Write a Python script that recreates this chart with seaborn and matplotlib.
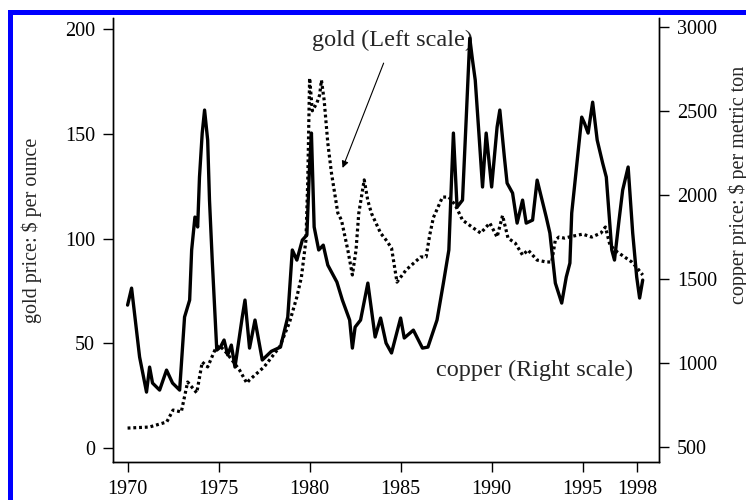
import numpy as np
import pandas as pd
import matplotlib
matplotlib.use("Agg")
import matplotlib.pyplot as plt
from matplotlib.patches import Rectangle
import seaborn as sns

# copper price, $ per metric ton (right scale)
copper_year = [1970.0, 1970.22, 1970.66, 1971.04, 1971.21, 1971.37, 1971.76, 1972.14, 1972.47, 1972.86,
               1973.13, 1973.41, 1973.52, 1973.7, 1973.85, 1973.95, 1974.1, 1974.23, 1974.4, 1974.5,
               1974.65, 1974.9, 1975.1, 1975.3, 1975.5, 1975.7, 1975.9, 1976.3, 1976.45, 1976.7,
               1977.0, 1977.4, 1977.9, 1978.4, 1978.8, 1979.05, 1979.3, 1979.6, 1979.85, 1980.0,
               1980.1, 1980.25, 1980.5, 1980.75, 1981.0, 1981.5, 1981.8, 1982.2, 1982.35, 1982.5,
               1982.8, 1983.2, 1983.6, 1983.9, 1984.2, 1984.5, 1985.0, 1985.2, 1985.7, 1986.2,
               1986.5, 1987.0, 1987.35, 1987.65, 1987.8, 1987.9, 1988.1, 1988.4, 1988.6, 1988.8,
               1988.95, 1989.1, 1989.3, 1989.5, 1989.7, 1990.0, 1990.3, 1990.45, 1990.7, 1990.85,
               1991.15, 1991.4, 1991.7, 1991.9, 1992.25, 1992.5, 1993.0, 1993.2, 1993.5, 1993.85,
               1994.1, 1994.3, 1994.4, 1994.55, 1994.95, 1995.1, 1995.3, 1995.55, 1995.8, 1996.1,
               1996.3, 1996.6, 1996.75, 1997.0, 1997.2, 1997.5, 1997.75, 1997.97, 1998.13, 1998.3]
copper_price = [1345, 1446, 1036, 827, 976, 881, 839, 958, 881, 839,
                1274, 1375, 1673, 1869, 1810, 2107, 2369, 2506, 2327, 1970,
                1613, 1077, 1095, 1137, 1048, 1107, 976, 1274, 1375, 1089,
                1256, 1018, 1070, 1095, 1274, 1673, 1613, 1732, 1762, 2178,
                2369, 1810, 1673, 1702, 1583, 1482, 1375, 1256, 1089, 1214,
                1256, 1476, 1155, 1268, 1119, 1060, 1268, 1149, 1196, 1089,
                1095, 1256, 1476, 1673, 2100, 2369, 1928, 1970, 2446, 2934,
                2803, 2684, 2369, 2048, 2369, 2048, 2405, 2506, 2226, 2071,
                2012, 1833, 1970, 1833, 1851, 2089, 1869, 1774, 1476, 1357,
                1512, 1595, 1893, 2048, 2464, 2428, 2369, 2553, 2327, 2190,
                2107, 1673, 1613, 1851, 2030, 2167, 1774, 1512, 1387, 1494]

# gold price, $ per ounce (left scale)
gold_year = [1970.0, 1971.2, 1972.15, 1972.5, 1972.95, 1973.3, 1973.8, 1974.1, 1974.4, 1974.8,
             1975.05, 1975.45, 1976.15, 1976.55, 1976.7, 1977.5, 1978.35, 1978.9, 1979.3, 1979.55,
             1979.8, 1979.9, 1980.0, 1980.15, 1980.4, 1980.55, 1980.65, 1980.8, 1981.0, 1981.2,
             1981.55, 1981.75, 1982.1, 1982.35, 1982.55, 1982.7, 1983.0, 1983.2, 1983.4, 1983.9,
             1984.2, 1984.5, 1984.8, 1985.3, 1986.1, 1986.4, 1986.6, 1986.8, 1987.3, 1987.65,
             1988.0, 1988.4, 1989.0, 1989.4, 1989.9, 1990.3, 1990.6, 1990.9, 1991.3, 1991.7,
             1992.0, 1992.5, 1993.0, 1993.3, 1993.5, 1993.7, 1994.0, 1994.5, 1995.0, 1995.5,
             1996.0, 1996.25, 1996.5, 1996.9, 1997.3, 1997.7, 1998.0, 1998.3]
gold_price = [9.5, 10.0, 12.4, 18.1, 17.2, 31.5, 26.3, 41.0, 38.7, 46.8,
              49.0, 45.3, 37.2, 31.0, 32.5, 38.7, 48.2, 60.1, 72.1, 81.6,
              99.3, 128.0, 176.6, 161.0, 164.7, 168.5, 175.6, 166.0, 145.6, 131.3,
              112.2, 108.8, 94.5, 82.6, 94.5, 112.0, 128.0, 118.0, 112.0, 102.6,
              99.3, 95.5, 79.2, 85.0, 91.2, 91.2, 101.7, 110.0, 119.8, 119.8,
              116.0, 108.8, 105.0, 102.6, 107.4, 100.7, 111.0, 100.2, 97.8, 92.1,
              94.5, 89.7, 88.8, 88.8, 99.3, 100.7, 100.2, 101.2, 102.1, 100.7,
              102.6, 105.5, 96.9, 93.6, 91.2, 88.8, 85.9, 82.6]

x_ticks = [1970, 1975, 1980, 1985, 1990, 1995, 1998]
gold_ticks = [0, 50, 100, 150, 200]
copper_ticks = [500, 1000, 1500, 2000, 2500, 3000]

copper = pd.DataFrame({"year": copper_year, "price": copper_price})
gold = pd.DataFrame({"year": gold_year, "price": gold_price})

sns.set_style("ticks")
plt.rcParams["font.family"] = ["Liberation Serif", "DejaVu Serif"]

fig = plt.figure(figsize=(7.46, 5), dpi=100)
ax = fig.add_axes([0.1515, 0.076, 0.732, 0.888])
ax2 = ax.twinx()

sns.lineplot(data=gold, x="year", y="price", ax=ax, color="black",
             linewidth=2.3, linestyle=(0, (0.9, 0.9)))
sns.lineplot(data=copper, x="year", y="price", ax=ax2, color="black",
             linewidth=2.4)

ax.set_xlim(1969.2, 1999.2)
ax.set_ylim(-6.7, 205.3)
ax2.set_ylim(411, 3054)

ax.set_xticks(x_ticks)
ax.set_yticks(gold_ticks)
ax2.set_yticks(copper_ticks)

for a in (ax, ax2):
    a.spines["top"].set_visible(False)
    a.tick_params(direction="out", length=7, width=1, labelsize=14.5, pad=6, colors="black")
    for s in a.spines.values():
        s.set_linewidth(1.0)
        s.set_color("black")
ax.set_xlabel("")
ax.set_ylabel("")
ax2.set_ylabel("")

fig.text(0.042, 0.54, "gold price: $ per ounce", rotation=90, ha="center", va="center", fontsize=14.5)
fig.text(0.99, 0.63, "copper price: $ per metric ton", rotation=90, ha="center", va="center", fontsize=14.5)

ax.annotate("gold (Left scale)", xy=(1981.81, 133.7), xytext=(1984.56, 194.7),
            ha="center", va="center", fontsize=17.5,
            arrowprops=dict(arrowstyle="-|>", color="black", lw=0.8,
                            mutation_scale=10, shrinkA=7, shrinkB=0))
ax.text(1992.36, 37.2, "copper (Right scale)", ha="center", va="center", fontsize=17.5)

# blue frame (top and left edges)
fig.add_artist(Rectangle((0.0107, 0.0), 0.0067, 0.98, transform=fig.transFigure,
                         color="#0000ff", lw=0))
fig.add_artist(Rectangle((0.0107, 0.97), 0.99, 0.01, transform=fig.transFigure,
                         color="#0000ff", lw=0))

fig.savefig("out.png", dpi=100)
